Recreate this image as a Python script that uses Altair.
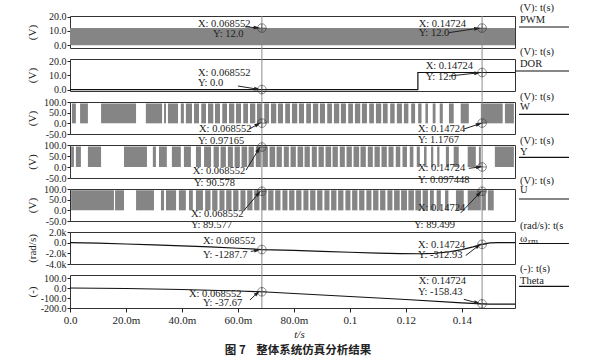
import math
import altair as alt
import pandas as pd

# ---------------- data (time in ms) ----------------
T_END = 159.0
T1 = 68.552
T2 = 147.24
PW = 445
FONT = "Liberation Serif"
GREY = "#858585"
INK = "#222222"

PWM_level = 12.0
W_level = 93.0
Y_level = 93.0
U_level = 94.0

W_on = [(0.7, 2.1), (3.6, 6.4), (11.1, 23.6), (27.1, 32.9), (33.6, 34.3), (35.0, 38.6), (39.6, 40.7), (41.4, 43.6),
        (44.3, 46.1), (46.9, 48.6), (49.3, 51.2), (51.8, 53.6), (54.4, 56.1), (56.8, 58.7), (59.3, 61.1), (61.9, 63.6),
        (64.3, 66.2), (66.8, 68.6), (69.4, 71.1), (71.8, 73.7), (74.3, 76.1), (76.9, 78.6), (79.3, 81.2), (81.8, 83.6),
        (84.4, 86.1), (86.8, 88.7), (89.3, 91.1), (91.9, 93.6), (94.3, 96.2), (96.8, 98.6), (99.4, 101.1), (101.8, 103.7),
        (104.3, 106.1), (106.9, 108.6), (109.3, 111.2), (111.8, 113.5), (114.4, 116.0), (116.8, 118.6), (119.3, 120.9),
        (121.9, 123.3), (124.4, 125.6), (127.0, 127.9), (129.6, 130.6), (132.1, 133.2), (135.4, 137.1), (139.6, 142.5),
        (146.8, 154.6), (155.4, 158.6)]

Y_on = [(0.4, 1.4), (2.1, 3.9), (6.4, 11.1), (19.3, 27.5), (29.6, 30.7), (31.8, 34.6), (36.4, 39.6), (40.7, 43.2),
        (45.0, 46.8), (47.9, 50.4), (51.3, 53.2), (53.8, 55.7), (56.4, 58.2), (58.8, 60.7), (61.3, 63.3), (63.8, 65.7),
        (66.4, 68.2), (68.8, 70.7), (71.3, 73.3), (73.8, 75.7), (76.4, 78.2), (78.8, 80.7), (81.3, 83.3), (83.8, 85.7),
        (86.4, 88.2), (88.8, 90.7), (91.3, 93.3), (93.8, 95.7), (96.4, 98.2), (98.8, 100.7), (101.3, 103.3), (103.8, 105.7),
        (106.4, 108.2), (108.8, 110.7), (111.3, 113.2), (113.8, 115.6), (116.4, 118.0), (118.8, 120.4), (121.4, 122.7),
        (123.9, 125.0), (126.5, 127.4), (129.0, 129.8), (131.2, 132.0), (134.3, 135.4), (137.1, 138.9), (142.1, 145.0),
        (146.1, 146.8), (151.8, 158.6)]

U_on = [(0.4, 15.7), (16.1, 19.3), (23.6, 30.0), (32.5, 33.6), (34.3, 37.9), (38.9, 41.4), (42.5, 43.9), (45.0, 47.5),
        (48.3, 50.2), (50.8, 52.7), (53.4, 55.2), (55.8, 57.7), (58.3, 60.2), (60.9, 62.7), (63.3, 65.2), (65.8, 67.7),
        (68.4, 70.2), (70.8, 72.7), (73.3, 75.2), (75.9, 77.7), (78.3, 80.2), (80.8, 82.7), (83.4, 85.2), (85.8, 87.7),
        (88.3, 90.2), (90.9, 92.7), (93.3, 95.2), (95.8, 97.7), (98.4, 100.2), (100.8, 102.7), (103.3, 105.2), (105.9, 107.7),
        (108.3, 110.2), (110.8, 112.7), (113.4, 115.2), (115.8, 117.8), (118.3, 120.4), (120.9, 122.9), (123.4, 125.4),
        (126.0, 127.9), (128.6, 130.0), (131.0, 132.5), (134.0, 135.2), (137.9, 140.7), (142.1, 146.8), (147.1, 148.6),
        (149.3, 151.4)]

DOR_t = [0.0, 124.3, 124.3, 159.0]
DOR_v = [0.0, 0.0, 12.0, 12.0]

omega_t = [0, 10, 20, 30, 40, 50, 60, 68.55, 80, 90, 100, 110, 118, 125, 130, 135, 140, 144, 147.24, 150, 153, 159]
omega_v = [0, -100, -250, -420, -600, -800, -1050, -1288, -1450, -1620, -1800, -1950, -2050, -2080, -2000, -1750,
           -1300, -800, -313, -40, 20, 20]

theta_t = [0, 20, 40, 60, 68.55, 80, 100, 120, 140, 147.24, 150, 159]
theta_v = [0, -5, -15, -30, -37.7, -55, -85, -115, -148, -158.4, -161, -161]

X_TICKS = [0, 20, 40, 60, 80, 100, 120, 140]

CAPTION = "图 7\u00a0\u00a0\u00a0\u00a0整体系统仿真分析结果"

LEXPR_PLAIN = "datum.value < 0 ? '-' + format(-datum.value, '.1f') : format(datum.value, '.1f')"
LEXPR_K = "datum.value == 0 ? '0.0' : datum.value < 0 ? '-' + format(-datum.value / 1000, '.1f') + 'k' : format(datum.value / 1000, '.1f') + 'k'"

panels = [
    dict(unit="(V)", legend="(V): t(s)", name="PWM", dom=[-2, 20.5], ticks=[0, 10, 20], h=32,
         lexpr=LEXPR_PLAIN, leg=(-7.7, 4, 11), ul0=449,
         cur=(12.0, 12.0),
         notes=[("X: 0.068552", 45.7, 15.1), ("Y: 12.0", 51.1, 7.8), ("X: 0.14724", 124.6, 15.1), ("Y: 12.0", 124.6, 8.3)],
         arrows=[(62.5, 12.9, 66.8, 12.2), (135.4, 8.8, 145.6, 11.8)]),
    dict(unit="(V)", legend="(V): t(s)", name="DOR", dom=[-1, 21.5], ticks=[0, 10, 20], h=32,
         lexpr=LEXPR_PLAIN, leg=(-6.7, 5, 12), ul0=445,
         cur=(0.0, 12.0),
         notes=[("X: 0.068552", 45.7, 11.4), ("Y: 0.0", 45.7, 4.4), ("X: 0.14724", 127.1, 16.8), ("Y: 12.0", 127.1, 9.1)],
         arrows=[(60.0, 2.5, 67.0, 0.3), (135.4, 9.5, 145.6, 11.7)]),
    dict(unit="(V)", legend="(V): t(s)", name="W", dom=[-50, 100], ticks=[-50, 0, 50, 100], h=32,
         lexpr=LEXPR_PLAIN, leg=(-4.8, 4.9, 12.3), ul0=449,
         cur=(0.97165, 1.1767),
         notes=[("X: 0.068552", 46.1, -28), ("Y: 0.97165", 45.7, -83), ("X: 0.14724", 124.3, -28), ("Y: 1.1767", 124.3, -78)],
         arrows=[(63.9, -28, 67.2, -4), (140.7, -27, 146.2, -3)]),
    dict(unit="(V)", legend="(V): t(s)", name="Y", dom=[-50, 100], ticks=[-50, 0, 50, 100], h=33,
         lexpr=LEXPR_PLAIN, leg=(-3.8, 6.7, 12.3), ul0=449,
         cur=(90.578, 0.097448),
         notes=[("X: 0.068552", 43.9, -18), ("Y: 90.578", 44.3, -74), ("X: 0.14724", 124.3, -6), ("Y: 0.097448", 124.3, -59)],
         arrows=[(62.9, -14, 67.4, 80), (142.5, -6, 146.3, 0)]),
    dict(unit="(V)", legend="(V): t(s)", name="U", dom=[-50, 100], ticks=[-50, 0, 50, 100], h=32,
         lexpr=LEXPR_PLAIN, leg=(-8.5, 1.0, 10), ul0=449,
         cur=(89.577, 89.499),
         notes=[("X: 0.068552", 43.2, -17), ("Y: 89.577", 43.2, -69), ("X: 0.14724", 124.3, 11), ("Y: 89.499", 122.9, -69)],
         arrows=[(61.8, -6, 67.4, 80), (139.6, -12, 146.3, 80)]),
    dict(unit="(rad/s)", legend="(rad/s): t(s", name="ω", dom=[-4000, 2000], ticks=[-4000, -2000, 0, 2000], h=32,
         lexpr=LEXPR_K, leg=(-6.5, 6.5, 11.5), ul0=449,
         cur=(-1287.7, -312.93),
         notes=[("X: 0.068552", 47.5, 406), ("Y: -1287.7", 47.5, -2275), ("X: 0.14724", 124.3, -344), ("Y: -312.93", 124.3, -2406)],
         arrows=[(64.6, -1656, 67.0, -1400), (141.4, -2406, 146.0, -550)]),
    dict(unit="(-)", legend="(-): t(s)", name="Theta", dom=[-200, 130], ticks=[-200, -100, 0, 100], h=33,
         lexpr=LEXPR_PLAIN, leg=(-5.7, 6, 11.3), ul0=449,
         cur=(-37.67, -158.43),
         notes=[("X: 0.068552", 42.5, -55), ("Y: -37.67", 47.5, -150), ("X: 0.14724", 124.6, 67), ("Y: -158.43", 124.3, -40)],
         arrows=[(64.3, -120, 67.0, -48), (140.7, -113, 145.6, -150)]),
]


def xenc(field, last):
    if last:
        ax = alt.Axis(values=X_TICKS, labelExpr="datum.value == 0 ? '0.0' : datum.value < 99 ? format(datum.value, '.1f') + 'm' : format(datum.value / 1000, '~g')",
                      tickSize=4, tickColor=INK, labelFont=FONT, labelFontSize=11, labelColor=INK, labelPadding=2,
                      labelOverlap=False, labelFlush=False,
                      title="t/s", titleFont=FONT, titleFontStyle="italic", titleFontWeight="normal", titleFontSize=11,
                      titleColor=INK, titlePadding=3, titleX=229, domain=False, grid=False)
        return alt.X(f"{field}:Q", scale=alt.Scale(domain=[0, T_END], nice=False, zero=False), axis=ax)
    return alt.X(f"{field}:Q", scale=alt.Scale(domain=[0, T_END], nice=False, zero=False), axis=None)


def yenc(field, p):
    ax = alt.Axis(title=p["unit"], values=p["ticks"], labelExpr=p["lexpr"], tickSize=3, tickColor=INK,
                  labelFont=FONT, labelFontSize=10, labelColor=INK, labelPadding=1,
                  labelOverlap=False, labelFlush=False,
                  titleFont=FONT, titleFontSize=11, titleFontWeight="normal", titleColor=INK,
                  titlePadding=2, minExtent=31, maxExtent=31, domain=False, grid=False)
    return alt.Y(f"{field}:Q", scale=alt.Scale(domain=p["dom"], nice=False, zero=False), axis=ax)


def make_panel(i, p):
    last = i == len(panels) - 1
    h = p["h"]
    layers = []
    name = p["name"]
    # main signal
    if name in ("PWM", "W", "Y", "U"):
        if name == "PWM":
            segs, lvl = [(0.0, T_END)], PWM_level
        else:
            segs, lvl = {"W": (W_on, W_level), "Y": (Y_on, Y_level), "U": (U_on, U_level)}[name]
        df = pd.DataFrame({"t0": [s[0] for s in segs], "t1": [s[1] for s in segs],
                           "v0": 0.0, "v1": lvl})
        layers.append(alt.Chart(df).mark_rect(color=GREY, stroke=None).encode(
            x=xenc("t0", last), x2="t1", y=yenc("v0", p), y2="v1"))
    else:
        tt, vv = {"DOR": (DOR_t, DOR_v), "ω": (omega_t, omega_v), "Theta": (theta_t, theta_v)}[name]
        df = pd.DataFrame({"t": tt, "v": vv, "o": list(range(len(tt)))})
        layers.append(alt.Chart(df).mark_line(color="#111111", strokeWidth=1.2).encode(
            x=xenc("t", last), y=yenc("v", p), order="o:Q"))
    # cursor lines
    ytop = 0 if i == 0 else -5.5
    ybot = h if last else h + 5.5
    layers.append(alt.Chart(pd.DataFrame({"t": [T1, T2]})).mark_rule(color="#8c8c8c", strokeWidth=1).encode(
        x=xenc("t", last), y=alt.value(ytop), y2=alt.value(ybot)))
    # circle markers
    cdf = pd.DataFrame({"t": [T1, T2], "v": list(p["cur"])})
    layers.append(alt.Chart(cdf).mark_point(shape="circle", filled=False, size=75, color="#333333", strokeWidth=0.8).encode(
        x=xenc("t", last), y=yenc("v", p)))
    layers.append(alt.Chart(cdf).mark_point(shape="M-1,0L1,0M0,-1L0,1", filled=False, size=75, color="#333333", strokeWidth=0.8).encode(
        x=xenc("t", last), y=yenc("v", p)))
    # arrows
    rows, heads = [], []
    span = p["dom"][1] - p["dom"][0]
    for k, (ta, va, tb, vb) in enumerate(p["arrows"]):
        rows += [{"id": k, "t": ta, "v": va, "o": 0}, {"id": k, "t": tb, "v": vb, "o": 1}]
        dx = (tb - ta) / T_END * PW
        dy = -(vb - va) / span * h
        ang = math.degrees(math.atan2(dx, -dy)) % 360
        heads.append({"t": tb, "v": vb, "ang": ang})
    layers.append(alt.Chart(pd.DataFrame(rows)).mark_line(color=INK, strokeWidth=1).encode(
        x=xenc("t", last), y=yenc("v", p), detail="id:N", order="o:Q"))
    layers.append(alt.Chart(pd.DataFrame(heads)).mark_point(shape="M0,-1L0.55,1L-0.55,1Z", filled=True, size=45,
                                                            color=INK, opacity=1).encode(
        x=xenc("t", last), y=yenc("v", p), angle=alt.Angle("ang:Q", scale=None)))
    # annotation text
    ndf = pd.DataFrame({"label": [n[0] for n in p["notes"]], "t": [n[1] for n in p["notes"]], "v": [n[2] for n in p["notes"]]})
    layers.append(alt.Chart(ndf).mark_text(align="left", baseline="middle", font=FONT, fontSize=10.5, color=INK).encode(
        x=xenc("t", last), y=yenc("v", p), text="label:N"))
    # right-side legend
    l1, l2, l3 = p["leg"]
    layers.append(alt.Chart(pd.DataFrame({"s": [p["legend"]]})).mark_text(
        align="left", baseline="middle", font=FONT, fontSize=10.5, color=INK).encode(
        x=alt.value(450), y=alt.value(l1), text="s:N"))
    if name == "ω":
        layers.append(alt.Chart(pd.DataFrame({"s": ["ω"]})).mark_text(
            align="left", baseline="middle", font=FONT, fontSize=11, color=INK).encode(
            x=alt.value(450), y=alt.value(l2), text="s:N"))
        layers.append(alt.Chart(pd.DataFrame({"s": ["rm"]})).mark_text(
            align="left", baseline="middle", font=FONT, fontSize=9, color=INK).encode(
            x=alt.value(458), y=alt.value(l2 + 2), text="s:N"))
    else:
        layers.append(alt.Chart(pd.DataFrame({"s": [name]})).mark_text(
            align="left", baseline="middle", font=FONT, fontSize=10.5, color=INK).encode(
            x=alt.value(450), y=alt.value(l2), text="s:N"))
    layers.append(alt.Chart(pd.DataFrame({"s": [name]})).mark_rule(color="#111111", strokeWidth=1.2).encode(
        x=alt.value(p["ul0"]), x2=alt.value(499), y=alt.value(l3)))
    if last:
        layers.append(alt.Chart(pd.DataFrame({"s": [CAPTION]})).mark_text(
            align="center", baseline="middle", font="Noto Sans CJK SC", fontWeight="bold", fontSize=11.5, color=INK).encode(
            x=alt.value(228), y=alt.value(76), text="s:N"))
    return alt.layer(*layers).properties(width=PW, height=h)


charts = [make_panel(i, p) for i, p in enumerate(panels)]
chart = alt.vconcat(*charts, spacing=11, bounds="flush").properties(
    padding={"left": 25, "top": 2, "right": 2, "bottom": 2}, background="white"
).configure_view(stroke="#333333", strokeWidth=1)

chart.save("out.html", embed_options={"renderer": "svg", "actions": False})
